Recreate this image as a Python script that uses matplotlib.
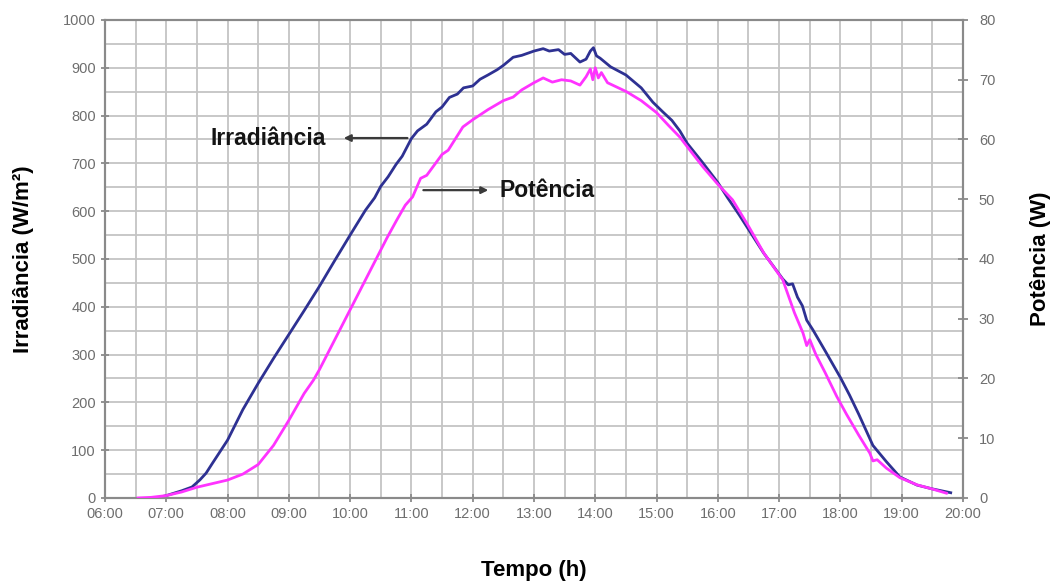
import matplotlib
matplotlib.use("Agg")
import matplotlib.pyplot as plt
from matplotlib.ticker import MultipleLocator, FuncFormatter

plt.rcParams['font.family'] = ['Liberation Sans', 'DejaVu Sans']

# irradiance (W/m2) vs time (decimal hours)
irr_t = [6.85, 7.0, 7.25, 7.42, 7.55, 7.65, 7.75, 8.0, 8.25, 8.5, 8.75, 9.0, 9.25, 9.5,
         9.75, 10.0, 10.12, 10.25, 10.4, 10.5, 10.62, 10.75, 10.85, 11.0, 11.1, 11.25,
         11.4, 11.5, 11.62, 11.75, 11.85, 12.0, 12.12, 12.25, 12.4, 12.5, 12.66, 12.8,
         13.0, 13.15, 13.25, 13.4, 13.5, 13.6, 13.75, 13.85, 13.92, 13.97, 14.02, 14.08,
         14.25, 14.5, 14.75, 14.94, 15.1, 15.25, 15.38, 15.5, 15.75, 16.0, 16.16, 16.35,
         16.5, 16.75, 17.06, 17.15, 17.22, 17.3, 17.38, 17.45, 17.55, 17.75, 18.0, 18.15,
         18.3, 18.53, 18.75, 18.97, 19.25, 19.5, 19.8]
irr_v = [0, 5, 15, 23, 38, 52, 72, 121, 185, 240, 292, 342, 392, 443,
         497, 550, 575, 602, 628, 652, 672, 698, 715, 752, 768, 782,
         808, 818, 838, 845, 858, 862, 876, 885, 896, 905, 922, 926,
         935, 940, 935, 938, 928, 930, 912, 918, 935, 942, 925, 920,
         902, 885, 858, 828, 808, 790, 768, 742, 702, 660, 628, 592,
         562, 512, 458, 446, 448, 420, 402, 372, 352, 308, 252, 215,
         175, 110, 76, 44, 27, 19, 11]

# power (W) vs time (decimal hours)
pot_t = [6.54, 6.75, 7.0, 7.25, 7.5, 7.75, 8.0, 8.25, 8.5, 8.75, 9.0, 9.25, 9.4, 9.5,
         9.75, 10.0, 10.25, 10.5, 10.6, 10.76, 10.9, 11.02, 11.15, 11.25, 11.5, 11.6,
         11.84, 12.0, 12.25, 12.5, 12.66, 12.8, 13.0, 13.15, 13.3, 13.45, 13.6, 13.75,
         13.85, 13.92, 13.96, 14.0, 14.05, 14.1, 14.2, 14.51, 14.75, 15.0, 15.2, 15.38,
         15.5, 15.75, 16.0, 16.24, 16.5, 16.75, 17.06, 17.25, 17.39, 17.45, 17.5, 17.6,
         17.75, 17.94, 18.1, 18.3, 18.48, 18.53, 18.6, 18.75, 18.97, 19.25, 19.5, 19.73]
pot_v = [0, 0.1, 0.4, 1.0, 1.8, 2.4, 3.0, 4.0, 5.6, 8.8, 13.0, 17.5, 19.7, 21.5,
         26.5, 31.5, 36.5, 41.5, 43.5, 46.5, 49.0, 50.4, 53.5, 54.0, 57.5, 58.2,
         62.1, 63.3, 65.0, 66.5, 67.1, 68.3, 69.5, 70.3, 69.6, 70.0, 69.8, 69.1,
         70.5, 71.8, 70.0, 72.0, 70.3, 71.2, 69.5, 68.0, 66.5, 64.5, 62.3, 60.4,
         58.8, 55.5, 52.5, 49.9, 45.5, 41.0, 36.5, 31.0, 27.6, 25.5, 26.5, 24.0,
         21.0, 17.0, 14.0, 10.5, 7.5, 6.2, 6.4, 5.0, 3.4, 2.2, 1.5, 0.8]

fig = plt.figure(figsize=(10.53, 5.81), dpi=100)
ax = fig.add_axes([0.0997, 0.1429, 0.8148, 0.8227])
ax2 = ax.twinx()

grid_col = '#c4c4c4'
spine_col = '#8a8a8a'
tick_col = '#6e6e6e'

ax.set_xlim(6, 20)
ax.set_ylim(0, 1000)
ax2.set_ylim(0, 80)
ax.xaxis.set_major_locator(MultipleLocator(1))
ax.xaxis.set_minor_locator(MultipleLocator(0.5))
ax.yaxis.set_major_locator(MultipleLocator(100))
ax.yaxis.set_minor_locator(MultipleLocator(50))
ax2.yaxis.set_major_locator(MultipleLocator(10))
ax.xaxis.set_major_formatter(FuncFormatter(lambda v, p: '%02d:00' % int(round(v))))

ax.grid(True, which='both', color=grid_col, lw=1.3, zorder=0)
ax.set_axisbelow(True)

for a in (ax, ax2):
    for s in a.spines.values():
        s.set_color(spine_col)
        s.set_linewidth(1.5)
ax.tick_params(which='major', direction='inout', length=6, width=1.3, color=spine_col,
               labelsize=10.5, labelcolor=tick_col)
ax.tick_params(which='minor', length=0)
ax2.tick_params(which='major', direction='inout', length=7, width=1.3, color=spine_col,
                labelsize=10.5, labelcolor=tick_col, pad=8)

ax.plot(irr_t, irr_v, color='#2e3192', lw=2.0, zorder=3)
ax2.plot(pot_t, pot_v, color='#ff33ff', lw=2.0, zorder=3)

ax.set_xlabel('Tempo (h)', fontsize=16, fontweight='bold', labelpad=28)
ax.set_ylabel('Irradiância (W/m²)', fontsize=16, fontweight='bold', labelpad=21)
ax2.set_ylabel('Potência (W)', fontsize=16, fontweight='bold', labelpad=25)

arrow = dict(arrowstyle='-|>', color='#3a3a3a', lw=1.6, mutation_scale=10)
ax.annotate('', xy=(9.85, 753), xytext=(10.98, 753), arrowprops=arrow)
ax.text(9.6, 753, 'Irradiância', fontsize=16.5, fontweight='bold', ha='right', va='center',
        color='#141414')
ax.annotate('', xy=(12.3, 644), xytext=(11.15, 644), arrowprops=arrow)
ax.text(12.43, 644, 'Potência', fontsize=16.5, fontweight='bold', ha='left', va='center',
        color='#141414')

fig.savefig('out.png', dpi=100)
